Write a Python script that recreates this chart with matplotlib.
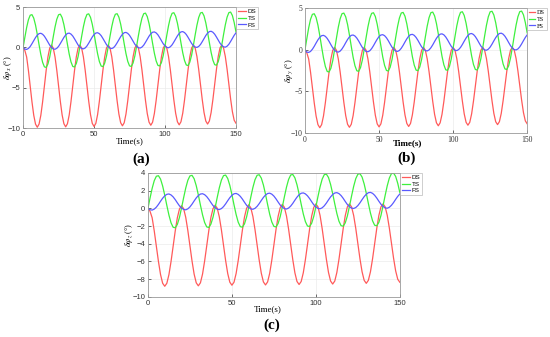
import numpy as np
import matplotlib
matplotlib.use("Agg")
import matplotlib.pyplot as plt

plt.rcParams["mathtext.fontset"] = "stix"

# sampling time (s), one reading every 1.25 s
t = np.arange(0, 150.01, 1.25)
xticks = [0, 50, 100, 150]
series_names = ["DS", "TS", "FS"]

# (a) delta phi_x
ds_a = [0.0, -0.39, -1.19, -2.85, -4.8, -6.75, -8.41, -9.51, -9.9, -9.51, -8.41, -6.75, -4.8, -2.85, -1.19, -0.09,
        0.3, -0.09, -1.18, -2.84, -4.78, -6.71, -8.37, -9.46, -9.85, -9.46, -8.37, -6.71, -4.78, -2.84, -1.18, -0.09,
        0.3, -0.08, -1.18, -2.82, -4.75, -6.68, -8.33, -9.42, -9.8, -9.42, -8.33, -6.68, -4.75, -2.82, -1.18, -0.08,
        0.3, -0.08, -1.16, -2.80, -4.71, -6.62, -8.26, -9.34, -9.72, -9.34, -8.26, -6.62, -4.71, -2.80, -1.16, -0.08,
        0.3, -0.08, -1.15, -2.78, -4.68, -6.58, -8.20, -9.27, -9.65, -9.27, -8.20, -6.58, -4.68, -2.78, -1.15, -0.08,
        0.3, -0.08, -1.15, -2.76, -4.65, -6.54, -8.16, -9.22, -9.6, -9.22, -8.16, -6.54, -4.65, -2.76, -1.15, -0.08,
        0.3, -0.07, -1.13, -2.73, -4.6, -6.47, -8.07, -9.13, -9.5, -9.13, -8.07, -6.47, -4.6, -2.73, -1.13, -0.07,
        0.3, -0.07, -1.12, -2.70, -4.55, -6.40, -7.98, -9.03, -9.4]
ts_a = [0.0, 1.26, 2.47, 3.43, 3.99, 4.06, 3.63, 2.77, 1.61, 0.32, -0.89, -1.85, -2.41, -2.48, -2.05, -1.19,
        0.03, 1.32, 2.53, 3.49, 4.05, 4.12, 3.69, 2.83, 1.67, 0.38, -0.84, -1.80, -2.36, -2.43, -2.00, -1.14,
        0.07, 1.36, 2.57, 3.53, 4.09, 4.16, 3.73, 2.87, 1.71, 0.42, -0.79, -1.75, -2.31, -2.38, -1.95, -1.09,
        0.09, 1.38, 2.59, 3.55, 4.11, 4.18, 3.75, 2.89, 1.73, 0.44, -0.77, -1.73, -2.29, -2.36, -1.93, -1.07,
        0.16, 1.45, 2.66, 3.62, 4.18, 4.25, 3.82, 2.96, 1.80, 0.51, -0.71, -1.67, -2.23, -2.30, -1.87, -1.01,
        0.21, 1.50, 2.71, 3.67, 4.23, 4.30, 3.87, 3.01, 1.85, 0.56, -0.66, -1.62, -2.18, -2.25, -1.82, -0.96,
        0.25, 1.54, 2.75, 3.71, 4.27, 4.34, 3.91, 3.05, 1.89, 0.60, -0.62, -1.58, -2.14, -2.21, -1.78, -0.92,
        0.29, 1.58, 2.79, 3.75, 4.31, 4.38, 3.95, 3.09, 1.93]
fs_a = [0.0, -0.21, -0.25, -0.13, 0.11, 0.46, 0.84, 1.22, 1.52, 1.71, 1.75, 1.63, 1.39, 1.04, 0.66, 0.28,
        0.0, -0.19, -0.23, -0.11, 0.13, 0.48, 0.86, 1.24, 1.54, 1.73, 1.77, 1.65, 1.41, 1.06, 0.68, 0.30,
        0.05, -0.14, -0.18, -0.07, 0.18, 0.53, 0.91, 1.29, 1.59, 1.78, 1.82, 1.70, 1.46, 1.11, 0.73, 0.35,
        0.09, -0.10, -0.14, -0.03, 0.22, 0.57, 0.95, 1.33, 1.63, 1.82, 1.86, 1.74, 1.50, 1.15, 0.77, 0.39,
        0.15, -0.04, -0.08, 0.04, 0.28, 0.63, 1.01, 1.39, 1.69, 1.88, 1.92, 1.80, 1.56, 1.21, 0.83, 0.45,
        0.19, 0.0, -0.04, 0.08, 0.32, 0.67, 1.05, 1.43, 1.73, 1.92, 1.96, 1.84, 1.60, 1.25, 0.87, 0.49,
        0.23, 0.04, 0.0, 0.12, 0.36, 0.71, 1.09, 1.47, 1.77, 1.96, 2.0, 1.88, 1.64, 1.29, 0.91, 0.53,
        0.26, 0.07, 0.03, 0.15, 0.39, 0.74, 1.12, 1.50, 1.80]

# (b) delta phi_y
ds_b = [0.0, -0.37, -1.11, -2.68, -4.53, -6.37, -7.94, -8.98, -9.35, -8.98, -7.94, -6.37, -4.53, -2.68, -1.11, -0.07,
        0.3, -0.07, -1.10, -2.67, -4.5, -6.33, -7.90, -8.94, -9.3, -8.94, -7.90, -6.33, -4.5, -2.67, -1.10, -0.07,
        0.3, -0.06, -1.09, -2.65, -4.48, -6.30, -7.86, -8.89, -9.25, -8.89, -7.86, -6.30, -4.48, -2.65, -1.09, -0.06,
        0.3, -0.06, -1.09, -2.64, -4.45, -6.27, -7.81, -8.84, -9.2, -8.84, -7.81, -6.27, -4.45, -2.64, -1.09, -0.06,
        0.3, -0.06, -1.08, -2.61, -4.41, -6.21, -7.75, -8.76, -9.12, -8.76, -7.75, -6.21, -4.41, -2.61, -1.08, -0.06,
        0.3, -0.06, -1.07, -2.59, -4.38, -6.16, -7.69, -8.70, -9.05, -8.70, -7.69, -6.16, -4.38, -2.59, -1.07, -0.06,
        0.3, -0.05, -1.06, -2.57, -4.34, -6.11, -7.63, -8.63, -8.98, -8.63, -7.63, -6.11, -4.34, -2.57, -1.06, -0.05,
        0.3, -0.05, -1.04, -2.54, -4.29, -6.04, -7.54, -8.53, -8.88]
ts_b = [0.0, 1.33, 2.63, 3.65, 4.25, 4.32, 3.87, 2.95, 1.71, 0.33, -0.98, -2.00, -2.60, -2.67, -2.22, -1.30,
        0.03, 1.41, 2.71, 3.73, 4.33, 4.40, 3.95, 3.03, 1.79, 0.41, -0.90, -1.92, -2.52, -2.59, -2.14, -1.22,
        0.07, 1.45, 2.75, 3.77, 4.37, 4.44, 3.99, 3.07, 1.83, 0.45, -0.86, -1.88, -2.48, -2.55, -2.10, -1.18,
        0.11, 1.49, 2.79, 3.81, 4.41, 4.48, 4.03, 3.11, 1.87, 0.49, -0.82, -1.84, -2.44, -2.51, -2.06, -1.14,
        0.15, 1.53, 2.83, 3.85, 4.45, 4.52, 4.07, 3.15, 1.91, 0.53, -0.78, -1.80, -2.40, -2.47, -2.02, -1.10,
        0.19, 1.57, 2.87, 3.89, 4.49, 4.56, 4.11, 3.19, 1.95, 0.57, -0.74, -1.76, -2.36, -2.43, -1.98, -1.06,
        0.25, 1.63, 2.93, 3.95, 4.55, 4.62, 4.17, 3.25, 2.01, 0.63, -0.68, -1.70, -2.30, -2.37, -1.92, -1.00,
        0.27, 1.65, 2.95, 3.97, 4.57, 4.64, 4.19, 3.27, 2.03]
fs_b = [0.0, -0.28, -0.32, -0.20, 0.06, 0.41, 0.81, 1.19, 1.50, 1.69, 1.73, 1.61, 1.36, 1.01, 0.61, 0.23,
        -0.05, -0.24, -0.28, -0.16, 0.10, 0.45, 0.85, 1.23, 1.54, 1.73, 1.77, 1.65, 1.40, 1.05, 0.65, 0.27,
        0.0, -0.20, -0.24, -0.12, 0.14, 0.49, 0.89, 1.27, 1.58, 1.77, 1.81, 1.69, 1.44, 1.09, 0.69, 0.31,
        0.04, -0.16, -0.20, -0.08, 0.18, 0.53, 0.93, 1.31, 1.62, 1.81, 1.85, 1.73, 1.48, 1.13, 0.73, 0.35,
        0.10, -0.10, -0.14, -0.02, 0.24, 0.59, 0.99, 1.37, 1.68, 1.87, 1.91, 1.79, 1.54, 1.19, 0.79, 0.41,
        0.14, -0.06, -0.10, 0.03, 0.28, 0.63, 1.03, 1.41, 1.72, 1.91, 1.95, 1.83, 1.58, 1.23, 0.83, 0.45,
        0.18, -0.02, -0.06, 0.07, 0.32, 0.67, 1.07, 1.45, 1.76, 1.95, 1.99, 1.87, 1.62, 1.27, 0.87, 0.49,
        0.21, 0.02, -0.02, 0.10, 0.35, 0.70, 1.10, 1.48, 1.79]

# (c) delta phi_z
ds_c = [0.0, -0.34, -1.07, -2.55, -4.28, -6.00, -7.48, -8.46, -8.8, -8.46, -7.48, -6.00, -4.28, -2.55, -1.07, -0.09,
        0.3, -0.04, -1.02, -2.50, -4.23, -5.95, -7.43, -8.41, -8.75, -8.41, -7.43, -5.95, -4.23, -2.50, -1.02, -0.04,
        0.35, 0.01, -0.97, -2.44, -4.17, -5.89, -7.36, -8.34, -8.68, -8.34, -7.36, -5.89, -4.17, -2.44, -0.97, 0.01,
        0.4, 0.06, -0.92, -2.40, -4.13, -5.85, -7.33, -8.31, -8.65, -8.31, -7.33, -5.85, -4.13, -2.40, -0.92, 0.06,
        0.45, 0.11, -0.87, -2.35, -4.08, -5.80, -7.28, -8.26, -8.6, -8.26, -7.28, -5.80, -4.08, -2.35, -0.87, 0.11,
        0.5, 0.16, -0.82, -2.30, -4.03, -5.75, -7.23, -8.21, -8.55, -8.21, -7.23, -5.75, -4.03, -2.30, -0.82, 0.16,
        0.5, 0.16, -0.81, -2.27, -3.99, -5.70, -7.16, -8.13, -8.47, -8.13, -7.16, -5.70, -3.99, -2.27, -0.81, 0.16,
        0.5, 0.16, -0.79, -2.24, -3.93, -5.62, -7.06, -8.01, -8.35]
ts_c = [0.0, 1.16, 2.25, 3.12, 3.62, 3.68, 3.30, 2.52, 1.48, 0.32, -0.77, -1.64, -2.14, -2.20, -1.82, -1.04,
        0.04, 1.20, 2.29, 3.16, 3.66, 3.72, 3.34, 2.56, 1.52, 0.36, -0.73, -1.60, -2.10, -2.16, -1.78, -1.00,
        0.07, 1.23, 2.32, 3.19, 3.69, 3.75, 3.37, 2.59, 1.55, 0.39, -0.70, -1.57, -2.07, -2.13, -1.75, -0.97,
        0.11, 1.27, 2.36, 3.23, 3.73, 3.79, 3.41, 2.63, 1.59, 0.43, -0.67, -1.54, -2.04, -2.10, -1.72, -0.94,
        0.14, 1.30, 2.39, 3.26, 3.76, 3.82, 3.44, 2.66, 1.62, 0.46, -0.63, -1.50, -2.00, -2.06, -1.68, -0.90,
        0.18, 1.34, 2.43, 3.30, 3.80, 3.86, 3.48, 2.70, 1.66, 0.50, -0.59, -1.46, -1.96, -2.02, -1.64, -0.86,
        0.23, 1.39, 2.48, 3.35, 3.85, 3.91, 3.53, 2.75, 1.71, 0.55, -0.54, -1.41, -1.91, -1.97, -1.59, -0.81,
        0.30, 1.46, 2.55, 3.42, 3.92, 3.98, 3.60, 2.82, 1.78]
fs_c = [0.0, -0.16, -0.20, -0.09, 0.13, 0.44, 0.80, 1.14, 1.41, 1.58, 1.62, 1.51, 1.29, 0.98, 0.62, 0.28,
        0.04, -0.13, -0.17, -0.06, 0.16, 0.47, 0.83, 1.17, 1.44, 1.61, 1.65, 1.54, 1.32, 1.01, 0.65, 0.31,
        0.07, -0.10, -0.14, -0.03, 0.19, 0.50, 0.86, 1.20, 1.47, 1.64, 1.68, 1.57, 1.35, 1.04, 0.68, 0.34,
        0.10, -0.07, -0.11, 0.0, 0.22, 0.53, 0.89, 1.23, 1.50, 1.67, 1.71, 1.60, 1.38, 1.07, 0.71, 0.37,
        0.13, -0.04, -0.08, 0.03, 0.25, 0.56, 0.92, 1.26, 1.53, 1.70, 1.74, 1.63, 1.41, 1.10, 0.74, 0.40,
        0.16, -0.01, -0.05, 0.06, 0.28, 0.59, 0.95, 1.29, 1.56, 1.73, 1.77, 1.66, 1.44, 1.13, 0.77, 0.43,
        0.19, 0.02, -0.02, 0.09, 0.31, 0.62, 0.98, 1.32, 1.59, 1.76, 1.80, 1.69, 1.47, 1.16, 0.80, 0.46,
        0.22, 0.05, 0.01, 0.12, 0.34, 0.65, 1.01, 1.35, 1.62]

colors = ["#ff5a5a", "#3ef03e", "#5a5aff"]
serif = "Liberation Serif"
sans = "Liberation Sans"


def panel(rect, data, ylim, yticks, ylabel, tick_font, bold_x, xlab_pos, ylab_x, handle_len):
    ax = fig.add_axes(rect)
    for vals, name, c in zip(data, series_names, colors):
        ax.plot(t, vals, color=c, lw=0.9, label=name)
    ax.set_xlim(0, 150)
    ax.set_ylim(*ylim)
    ax.set_xticks(xticks)
    ax.set_yticks(yticks)
    ax.grid(True, color="#ebebeb", lw=0.5)
    ax.tick_params(direction="in", length=2, width=0.5, labelsize=5.5,
                   colors="#333333", pad=2)
    for lab in ax.get_xticklabels() + ax.get_yticklabels():
        lab.set_family(tick_font)
    for s in ax.spines.values():
        s.set_color("#999999")
        s.set_linewidth(0.6)
    ax.set_xlabel("Time(s)", family=serif, fontsize=6.5,
                  fontweight="bold" if bold_x else "normal")
    ax.xaxis.set_label_coords(*xlab_pos)
    ax.set_ylabel(ylabel, family=serif, fontsize=6)
    ax.yaxis.set_label_coords(ylab_x, 0.5)
    leg = ax.legend(loc="upper left", bbox_to_anchor=(1.0, 1.0),
                    prop={"family": tick_font, "size": 4.5},
                    handlelength=handle_len, handletextpad=0.3, borderpad=0.3,
                    labelspacing=0.2, fancybox=False, borderaxespad=0)
    leg.get_frame().set_edgecolor("#aaaaaa")
    leg.get_frame().set_linewidth(0.5)
    return ax


fig = plt.figure(figsize=(5.5, 3.37), dpi=100)

panel([0.042, 0.620, 0.387, 0.359], [ds_a, ts_a, fs_a], (-10, 5), [-10, -5, 0, 5],
      r"$\delta\varphi_x$ (°)", sans, False, (0.5, -0.075), -0.045, 1.3)
panel([0.5545, 0.605, 0.404, 0.371], [ds_b, ts_b, fs_b], (-10, 5), [-10, -5, 0, 5],
      r"$\delta\varphi_y$ (°)", serif, True, (0.46, -0.05), -0.045, 1.0)
panel([0.269, 0.119, 0.458, 0.368], [ds_c, ts_c, fs_c], (-10, 4), list(range(-10, 5, 2)),
      r"$\delta\varphi_z$ (°)", sans, False, (0.476, -0.065), -0.05, 1.3)

fig.text(0.256, 0.528, "(a)", ha="center", va="center", fontsize=11, fontweight="bold", family=serif)
fig.text(0.740, 0.531, "(b)", ha="center", va="center", fontsize=11, fontweight="bold", family=serif)
fig.text(0.495, 0.036, "(c)", ha="center", va="center", fontsize=11, fontweight="bold", family=serif)

fig.savefig("out.png", dpi=100)
